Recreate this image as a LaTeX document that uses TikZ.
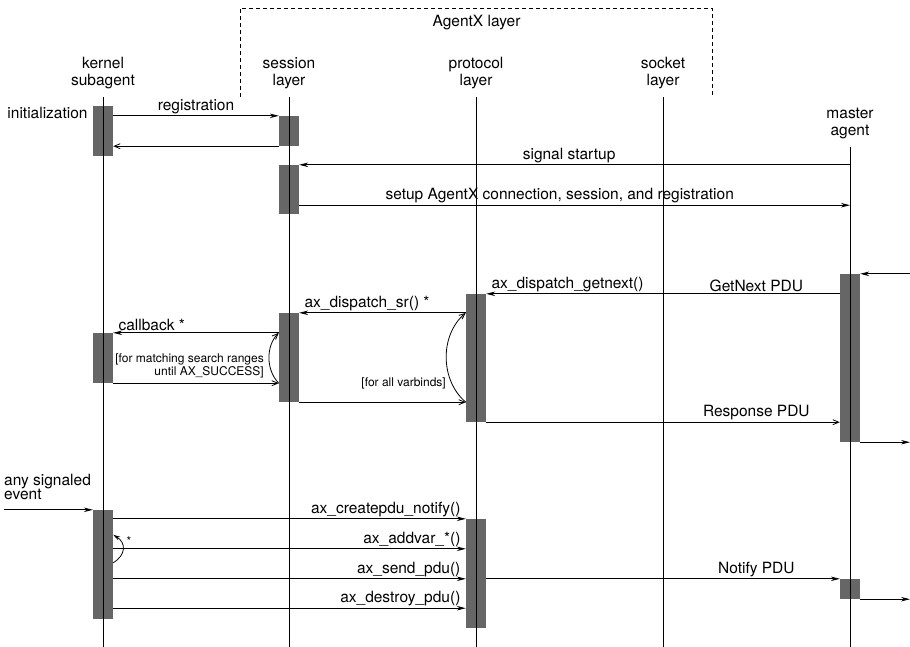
\documentclass[tikz,border=0pt]{standalone}
\usepackage{fontspec}
\setmainfont{TeX Gyre Heros}
\usetikzlibrary{arrows.meta, positioning}

\newcommand{\labfont}{\fontsize{15.5}{17}\selectfont}
\newcommand{\notefont}{\fontsize{12}{13.5}\selectfont}

\begin{document}
\begin{tikzpicture}[
    x=1pt, y=-1pt,
    head/.style={align=center, anchor=south, inner xsep=0pt, inner ysep=8pt, font=\labfont},
    act/.style={rectangle, fill=black!60, minimum width=20pt, inner sep=0pt},
    lifeline/.style={line width=0.8pt},
    call/.style={-{Stealth[length=9pt, width=4.5pt]}, line width=0.8pt},
    reply/.style={-{Straight Barb[length=6pt, width=5pt]}, line width=0.8pt},
    lbl/.style={font=\labfont, inner xsep=5pt, inner ysep=1.5pt},
    note/.style={font=\notefont, align=right, inner sep=0pt}
]
    \useasboundingbox (0,0) rectangle (910,647);
    \coordinate (bot) at (0,647);
    \coordinate (rim) at (910,0);

    % participants
    \node[head] (kernel) at (103,97) {kernel\\subagent};
    \node[head] (session) at (289,97) {session\\layer};
    \node[head] (protocol) at (476,97) {protocol\\layer};
    \node[head] (socket) at (663,97) {socket\\layer};
    \node[head] (master) at (850,147) {master\\agent};

    \node[lbl, inner sep=0pt] (agentx) at (476.5,22.5) {AgentX layer};
    \draw[dashed, dash pattern=on 4pt off 3pt, line width=0.7pt] (240,97) |- (712,8) -- (712,97);

    % activations
    \node[act, minimum height=50pt] (k1) at (103,131) {};
    \node[act, minimum height=30pt] (s1) at (289,131) {};
    \node[act, minimum height=49pt] (s2) at (289,189.5) {};
    \node[act, minimum height=50pt] (k2) at (103,358) {};
    \node[act, minimum height=89pt] (s3) at (289,357.5) {};
    \node[act, minimum height=128pt] (p1) at (476,358) {};
    \node[act, minimum height=168pt] (m1) at (850,358) {};
    \node[act, minimum height=109pt] (k3) at (103,564.5) {};
    \node[act, minimum height=109pt] (p2) at (476,573.5) {};
    \node[act, minimum height=20pt] (m2) at (850,589) {};

    \foreach \p in {kernel, session, protocol, socket, master}
        \draw[lifeline] (\p.south) -- (\p.south |- bot);

    % startup
    \node[lbl, anchor=east] (init) at ([yshift=-7pt]k1.north west) {initialization};
    \draw[call] (k1.east |- s1.north) -- node[lbl, above] (reg) {registration} (s1.north west);
    \draw[reply] (s1.south west) -- (k1.east |- s1.south);
    \draw[call] (master |- s2.north) -- node[lbl, above, pos=0.51] (sig) {signal startup} (s2.north east);
    \coordinate (su) at ([yshift=9pt]s2.south east);
    \draw[call] (su) -- node[lbl, above, pos=0.473] (setup) {setup AgentX connection, session, and registration} (su -| master);

    % getnext
    \draw[call] (m1.north east -| rim) -- (m1.north east);
    \draw[call] (m1.west |- p1.north) -- node[lbl, above, pos=0.236] (gn) {GetNext PDU}
        node[lbl, above right, pos=1] (dgn) {ax\_dispatch\_getnext()} (p1.north east);
    \draw[call] (p1.west |- s3.north) -- node[lbl, above right, pos=1] (dsr) {ax\_dispatch\_sr() *} (s3.north east);
    \draw[call] (s3.west |- k2.north) -- node[lbl, above right, pos=1] (cb) {callback *} (k2.north east);
    \draw[reply] (k2.south east) -- (s3.west |- k2.south);
    \draw[reply] (s3.west |- k2.south) .. controls +(-13,-13) and +(-13,13) .. (s3.west |- k2.north);
    \node[note, anchor=east] (srch) at (264,366) {[for matching search ranges\\until AX\_SUCCESS]};
    \draw[reply] (s3.south east) -- (p1.west |- s3.south);
    \draw[reply] (p1.west |- s3.south) .. controls +(-26,-22) and +(-26,22) .. (p1.west |- s3.north);
    \node[note, anchor=east] (vb) at (446,383) {[for all varbinds]};
    \draw[reply] (p1.south east) -- node[lbl, above, pos=0.764] (resp) {Response PDU} (m1.west |- p1.south);
    \draw[call] (m1.south east) -- (m1.south east -| rim);

    % notify
    \node[lbl, anchor=south west, align=left, inner sep=0pt, font=\fontsize{15.5}{14}\selectfont] (evt) at (4,500) {any signaled\\event};
    \draw[call] (evt.south west |- k3.north) -- (k3.north west);
    \draw[call] (k3.east |- p2.north) -- node[lbl, above left, pos=1] (cpn) {ax\_createpdu\_notify()} (p2.north west);
    \coordinate (lpA) at ([yshift=-25pt]k3.north east);
    \coordinate (lpB) at ([yshift=-53pt]k3.north east);
    \draw[-{Stealth[length=7pt, width=4pt]}, line width=0.8pt] (lpB) .. controls +(13,-8) and +(13,8) .. (lpA);
    \node[note] (star) at (129,541) {*};
    \coordinate (av) at ([yshift=-30pt]p2.north west);
    \draw[call] (k3.east |- av) -- node[lbl, above left, pos=1] (adv) {ax\_addvar\_*()} (av);
    \draw[call] (k3.east |- m2.north) -- node[lbl, above left, pos=1] (snd) {ax\_send\_pdu()} (p2.west |- m2.north);
    \coordinate (dp) at ([yshift=11pt]k3.south east);
    \draw[call] (dp) -- node[lbl, above left, pos=1] (dst) {ax\_destroy\_pdu()} (dp -| p2.west);
    \draw[call] (p2.east |- m2.north) -- node[lbl, above, pos=0.764] (ntf) {Notify PDU} (m2.north west);
    \draw[call] (m2.south east) -- (m2.south east -| rim);
\end{tikzpicture}
\end{document}
